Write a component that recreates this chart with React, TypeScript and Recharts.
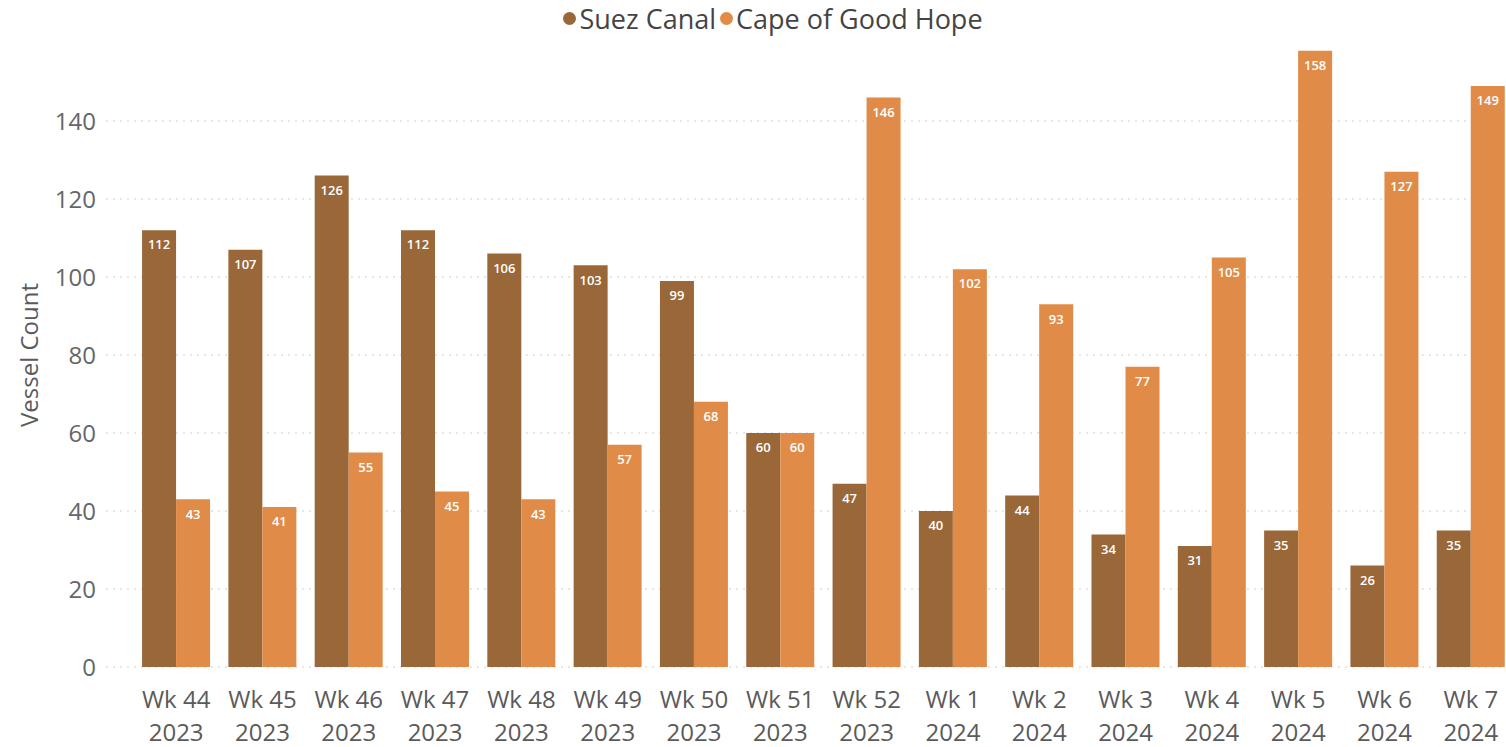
import React from 'react';
import { BarChart, Bar, XAxis, YAxis, CartesianGrid, Legend, LabelList } from 'recharts';

const weeks = ['Wk 44', 'Wk 45', 'Wk 46', 'Wk 47', 'Wk 48', 'Wk 49', 'Wk 50', 'Wk 51', 'Wk 52', 'Wk 1', 'Wk 2', 'Wk 3', 'Wk 4', 'Wk 5', 'Wk 6', 'Wk 7'];
const years = ['2023', '2023', '2023', '2023', '2023', '2023', '2023', '2023', '2023', '2024', '2024', '2024', '2024', '2024', '2024', '2024'];
const suezCanal = [112, 107, 126, 112, 106, 103, 99, 60, 47, 40, 44, 34, 31, 35, 26, 35];
const capeOfGoodHope = [43, 41, 55, 45, 43, 57, 68, 60, 146, 102, 93, 77, 105, 158, 127, 149];
const yTicks = [0, 20, 40, 60, 80, 100, 120, 140];

const SUEZ = '#9A6739';
const CAPE = '#E08C48';
const FONT = "'Segoe UI', 'Open Sans', sans-serif";

const data = weeks.map((w, i) => ({
  label: `${w}|${years[i]}`,
  suez: suezCanal[i],
  cape: capeOfGoodHope[i],
}));

const XTick = (props: any) => {
  const { x, y, payload } = props;
  const [w, yr] = String(payload.value).split('|');
  return (
    <text x={x} y={y} textAnchor="middle" fill="#5a5a5a" fontSize={24} fontFamily={FONT}>
      <tspan x={x} dy={33}>{w}</tspan>
      <tspan x={x} dy={33}>{yr}</tspan>
    </text>
  );
};

const LegendContent = () => (
  <div
    style={{
      height: 36,
      display: 'flex',
      justifyContent: 'center',
      alignItems: 'center',
      paddingLeft: 36,
      fontFamily: FONT,
      fontSize: 27,
      color: '#444',
      whiteSpace: 'nowrap',
    }}
  >
    {[
      { name: 'Suez Canal', color: SUEZ },
      { name: 'Cape of Good Hope', color: CAPE },
    ].map((it) => (
      <span key={it.name} style={{ display: 'inline-flex', alignItems: 'center', marginRight: 4 }}>
        <span
          style={{
            width: 13,
            height: 13,
            borderRadius: '50%',
            background: it.color,
            display: 'inline-block',
            marginRight: 3,
          }}
        />
        {it.name}
      </span>
    ))}
  </div>
);

const YLabel = (props: any) => {
  const vb = props.viewBox || {};
  const cx = (vb.x || 0) + 28;
  const cy = (vb.y || 0) + (vb.height || 0) / 2;
  return (
    <text
      x={cx}
      y={cy}
      textAnchor="middle"
      dominantBaseline="central"
      transform={`rotate(-90, ${cx}, ${cy})`}
      fill="#5a5a5a"
      fontSize={24}
      fontFamily={FONT}
    >
      Vessel Count
    </text>
  );
};

export default function App() {
  return (
    <div style={{ position: 'absolute', left: 0, top: 0, width: 1506, height: 747, overflow: 'hidden', background: '#fff' }}>
      <BarChart
        width={1514}
        height={747}
        data={data}
        margin={{ top: 7, right: 0, bottom: 0, left: 0 }}
        barCategoryGap="10.5%"
        barGap={0}
      >
        <CartesianGrid vertical={false} horizontalValues={yTicks} stroke="#cfcfcf" strokeDasharray="2 5" />
        <Legend verticalAlign="top" align="center" content={<LegendContent />} wrapperStyle={{ top: 0, left: 0, width: 1514 }} />
        <XAxis
          dataKey="label"
          axisLine={false}
          tickLine={false}
          height={80}
          interval={0}
          tick={<XTick />}
          padding={{ left: 27, right: 0 }}
        />
        <YAxis
          width={106}
          domain={[0, 160]}
          ticks={yTicks}
          axisLine={false}
          tickLine={false}
          tickMargin={4}
          tick={{ fill: '#666', fontSize: 24, fontFamily: FONT }}
          label={<YLabel />}
        />
        <Bar dataKey="suez" name="Suez Canal" fill={SUEZ} isAnimationActive={false}>
          <LabelList dataKey="suez" position="insideTop" offset={10} fill="#fff" fontSize={13} fontWeight={600} fontFamily={FONT} />
        </Bar>
        <Bar dataKey="cape" name="Cape of Good Hope" fill={CAPE} isAnimationActive={false}>
          <LabelList dataKey="cape" position="insideTop" offset={10} fill="#fff" fontSize={13} fontWeight={600} fontFamily={FONT} />
        </Bar>
      </BarChart>
    </div>
  );
}
